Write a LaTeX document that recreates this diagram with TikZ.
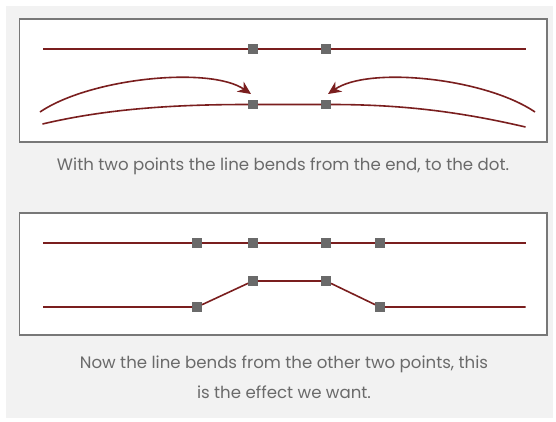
\documentclass[tikz,border=0pt]{standalone}
\usepackage{fontspec}
\setmainfont{Poppins}
\usetikzlibrary{arrows.meta,positioning}
\definecolor{wire}{HTML}{7A1E1E}
\definecolor{dotgray}{HTML}{6A6A6A}
\definecolor{panel}{HTML}{F2F2F2}
\definecolor{frame}{HTML}{787878}
\definecolor{captgray}{HTML}{6A6A6A}

\begin{document}
\begin{tikzpicture}[x=1pt, y=-1pt,
    pt/.style={rectangle, fill=dotgray, minimum size=9.5pt, inner sep=0pt},
    line/.style={line width=1.6pt, wire},
    bendarrow/.style={line width=1.6pt, wire, -{Stealth[length=13pt, width=12pt, inset=4pt]}},
    box/.style={draw=frame, line width=1.8pt, fill=white},
    captxt/.style={text=captgray, font=\fontsize{16.6}{30}\selectfont, align=center}
]
    \useasboundingbox (0,0) rectangle (556,421);
    \fill[white] (0,0) rectangle (556,421);
    \fill[panel] (6,6) rectangle (553,418);

    % === TWO POINTS ===
    \draw[box] (19.5,19) rectangle (547,142);

    % Straight line with two dots
    \node[pt] (p1) at (253,49) {};
    \node[pt] (p2) at (326,49) {};
    \coordinate (pL) at (43,49);
    \coordinate (pR) at (525.5,49);
    \draw[line] (pL) -- (p1) -- (p2) -- (pR);

    % Bent line
    \node[pt] (q1) at (253,104.5) {};
    \node[pt] (q2) at (326,104.5) {};
    \coordinate (qL) at (42.5,124);
    \coordinate (qR) at (525.5,127);
    \draw[line] (qL) .. controls (110,108) and (180,104.5) .. (q1) -- (q2)
        .. controls (399,104.5) and (457,111) .. (qR);

    % Bend arrows
    \coordinate (aL) at (40,112);
    \coordinate (aLtip) at (251,94);
    \coordinate (aR) at (535,112);
    \coordinate (aRtip) at (328,94);
    \draw[bendarrow] (aL) .. controls (90,78) and (210,66) .. (aLtip);
    \draw[bendarrow] (aR) .. controls (485,78) and (369,66) .. (aRtip);

    \node[captxt] (capA) at (283,166) {With two points the line bends from the end, to the dot.};

    % === FOUR POINTS ===
    \draw[box] (19.5,213) rectangle (547,335);

    % Straight line with four dots
    \node[pt] (s1) at (197,243) {};
    \node[pt] (s2) at (253,243) {};
    \node[pt] (s3) at (326,243) {};
    \node[pt] (s4) at (380,243) {};
    \coordinate (sL) at (43,243);
    \coordinate (sR) at (525.5,243);
    \draw[line] (sL) -- (s1) -- (s2) -- (s3) -- (s4) -- (sR);

    % Bent line
    \node[pt] (t1) at (197,307) {};
    \node[pt] (t2) at (253,281) {};
    \node[pt] (t3) at (326,281) {};
    \node[pt] (t4) at (380,307) {};
    \coordinate (tL) at (43,307);
    \coordinate (tR) at (525.5,307);
    \draw[line] (tL) -- (t1) -- (t2) -- (t3) -- (t4) -- (tR);

    \node[captxt] (capB) at (284,377) {Now the line bends from the other two points, this\\is the effect we want.};

\end{tikzpicture}
\end{document}
